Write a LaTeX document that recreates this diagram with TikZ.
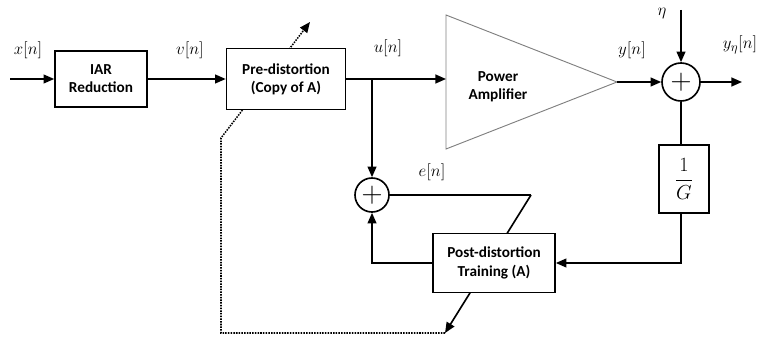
\documentclass[tikz,border=0pt]{standalone}
\usepackage{fontspec}
\setmainfont{Carlito}
\usepackage{amsmath}
\usetikzlibrary{arrows.meta,positioning,backgrounds}

\tikzset{
  block/.style={draw,fill=white,line width=1.4pt,align=center,inner sep=0pt,
    font=\fontsize{13}{15.5}\selectfont\bfseries},
  sumnode/.style={draw,circle,fill=white,line width=1.4pt,inner sep=0pt,
    font=\fontsize{24}{24}\selectfont},
  wire/.style={line width=1.4pt},
  sig/.style={wire,-{Triangle[length=9pt,width=7.5pt]}},
  dots/.style={line width=1.3pt,densely dotted,-{Triangle[length=9pt,width=7.5pt]}},
  lbl/.style={font=\fontsize{15}{17}\selectfont}
}

\begin{document}
\begin{tikzpicture}[x=0.03cm,y=-0.03cm]
  \useasboundingbox (0,0) rectangle (764,341);

  % forward path
  \coordinate (in) at (10,79);
  \node[block,minimum width=2.76cm,minimum height=1.68cm] (iar) at (101,79) {IAR\\Reduction};
  \node[block,minimum width=3.57cm,minimum height=1.83cm] (pre) at (286,79) {Pre-distortion\\(Copy of A)};
  \coordinate (tap) at (372,79);
  \coordinate (pain) at (446,79);
  \coordinate (paout) at (617,82);
  \draw[gray,line width=0.8pt] (446,15) -- (paout) -- (446,149) -- cycle;
  \node[font=\fontsize{13}{15.5}\selectfont\bfseries,align=center] (palab) at (498,87) {Power\\Amplifier};
  \node[sumnode,minimum size=1.14cm] (sumout) at (681,82) {$+$};
  \coordinate (noise) at (681,10);
  \coordinate (out) at (742,82);

  % feedback path
  \node[block,minimum width=1.5cm,minimum height=2.04cm] (gain) at (684,179) {\fontsize{17}{19}\selectfont$\dfrac{1}{G}$};
  \node[block,minimum width=3.66cm,minimum height=1.77cm] (post) at (494,263) {Post-distortion\\Training (A)};
  \node[sumnode,minimum size=1.02cm] (sumerr) at (372,195) {$+$};
  \coordinate (ebend) at (531,195);
  \coordinate (adapt) at (445,333);
  \coordinate (dc1) at (221,333);
  \coordinate (dc2) at (221,138);
  \coordinate (dtop) at (310,22);

  % signals
  \draw[sig] (in) -- (iar);
  \draw[sig] (iar) -- (pre);
  \draw[sig] (pre) -- (pain);
  \draw[sig] (paout) -- (sumout);
  \draw[sig] (noise) -- (sumout);
  \draw[sig] (sumout) -- (out);
  \draw[wire] (sumout) -- (sumout |- gain.north);
  \draw[sig] (sumout |- gain.south) |- (post.east);
  \draw[sig] (tap) -- (sumerr);
  \draw[sig] (post.west) -| (sumerr.south);

  % adaptation arrows behind the blocks
  \begin{pgfonlayer}{background}
    \draw[wire] (sumerr.east) -- (ebend);
    \draw[sig] (ebend) -- (adapt);
    \draw[dots] (adapt) -- (dc1) -- (dc2) -- (dtop);
  \end{pgfonlayer}

  % labels
  \node[lbl] (xlab) at (28,50) {$x[n]$};
  \node[lbl] (vlab) at (190,50) {$v[n]$};
  \node[lbl] (ulab) at (388,48) {$u[n]$};
  \node[lbl] (ylab) at (632,50) {$y[n]$};
  \node[lbl] (yelab) at (740,45) {$y_\eta[n]$};
  \node[lbl] (etalab) at (662,14) {$\eta$};
  \node[lbl] (elab) at (432,172) {$e[n]$};
\end{tikzpicture}
\end{document}
